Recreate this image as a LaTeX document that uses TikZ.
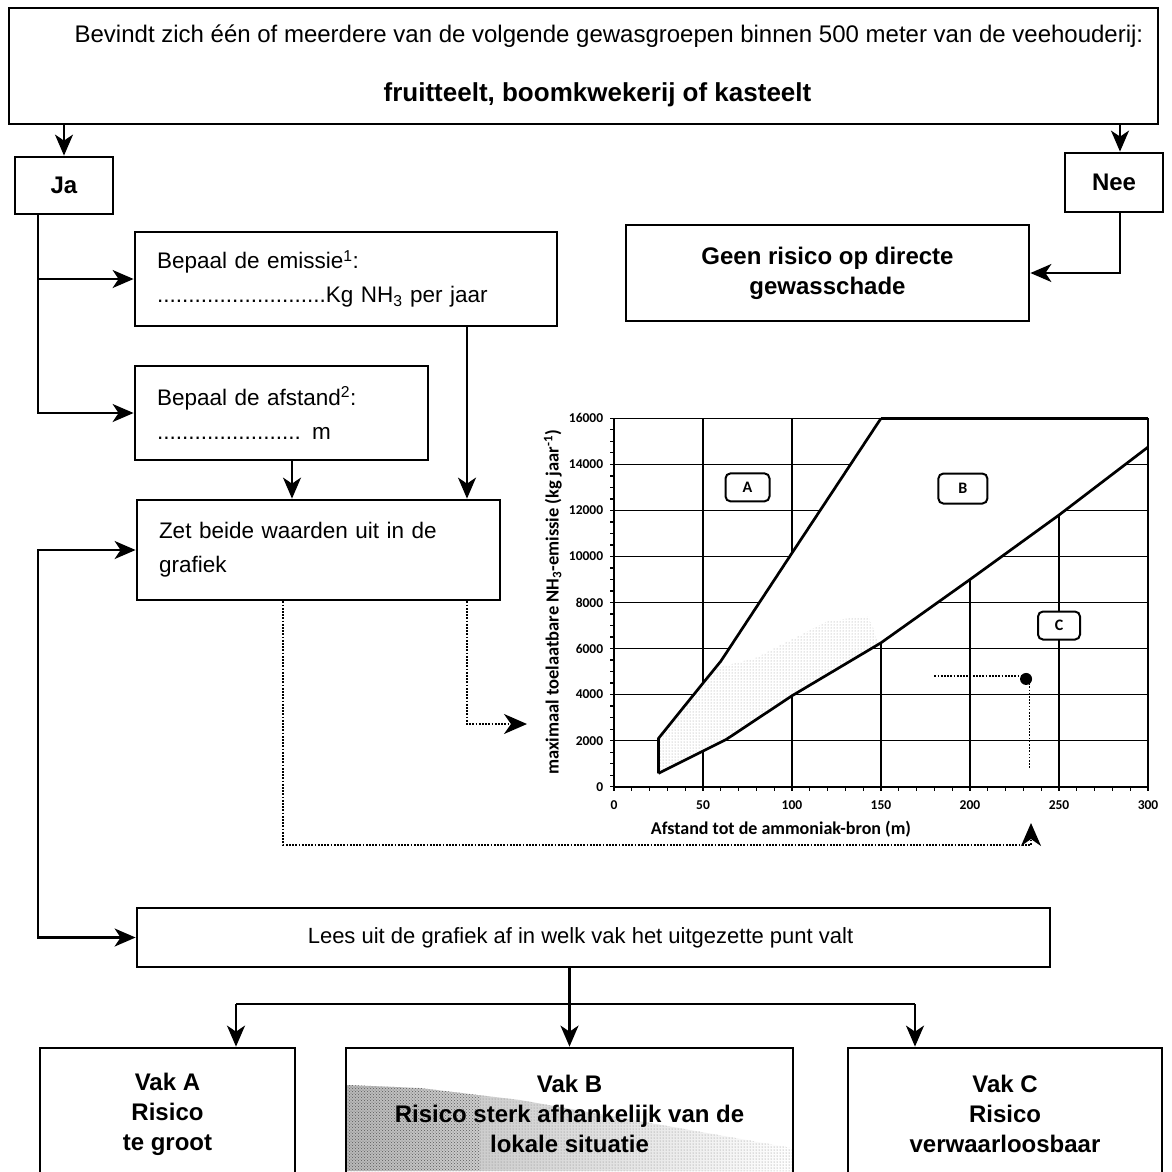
\documentclass[tikz,border=0pt]{standalone}
\usepackage{fontspec}
\setmainfont{Liberation Sans}
\newfontfamily\chartfont{Carlito}
\usetikzlibrary{arrows.meta,patterns}
\begin{document}
\begin{tikzpicture}[x=1pt,y=-1pt,
  box/.style={draw, line width=2.8pt, inner sep=0pt},
  arr/.style={line width=2.2pt, -{Stealth[length=21pt,width=18pt,inset=6pt]}},
  arrboth/.style={line width=2.2pt, {Stealth[length=21pt,width=18pt,inset=6pt]}-{Stealth[length=21pt,width=18pt,inset=6pt]}},
  ln/.style={line width=2.2pt},
  dotl/.style={line width=1.7pt, dash pattern=on 1.7pt off 1.5pt},
  dotarr/.style={dotl, -{Stealth[length=23pt,width=20pt,inset=7pt]}},
  reg/.style={font=\fontsize{22.5}{34}\selectfont},
  bld/.style={font=\bfseries\fontsize{24}{30}\selectfont},
  gridl/.style={line width=1.6pt},
  curve/.style={line width=2.7pt, line join=round},
  lab/.style={font=\chartfont\bfseries\fontsize{13.5}{14}\selectfont, inner sep=0pt},
  vakl/.style={draw, rounded corners=5pt, line width=2pt, fill=white, font=\chartfont\bfseries\fontsize{16}{16}\selectfont, inner sep=0pt}
]
\useasboundingbox (0,0) rectangle (1172,1171);
\fill[white] (0,0) rectangle (1172,1171);
\clip (0,0) rectangle (1172,1171);

% ---------- flowchart boxes ----------
\node[box, font=\fontsize{24}{28}\selectfont, align=center, minimum width=1149pt, minimum height=116pt] (top) at (583.5,66)
  {\hspace*{51pt}Bevindt zich één of meerdere van de volgende gewasgroepen binnen 500 meter van de veehouderij:\\[31pt]\hspace*{28pt}{\bfseries\fontsize{26}{28}\selectfont fruitteelt, boomkwekerij of kasteelt}};
\node[box, bld, minimum width=98pt, minimum height=57pt] (ja) at (64,185.5) {Ja};
\node[box, bld, minimum width=98pt, minimum height=59pt] (nee) at (1114,182.5) {Nee};
\node[box, bld, align=center, minimum width=403pt, minimum height=96pt] (geen) at (827.5,273) {Geen risico op directe\\gewasschade};
\node[box, reg, align=left, minimum height=94pt, text width=378pt, inner xsep=22pt] (emis) at (346,279)
  {Bepaal de emissie\textsuperscript{1}:\\...........................Kg NH\textsubscript{3} per jaar};
\node[box, reg, align=left, minimum height=94pt, text width=249pt, inner xsep=22pt] (afst) at (281.5,413)
  {Bepaal de afstand\textsuperscript{2}:\\....................... m};
\node[box, reg, align=left, minimum height=100pt, text width=319pt, inner xsep=22pt] (zet) at (318.5,550)
  {Zet beide waarden uit in de\\grafiek};
\node[box, font=\fontsize{22}{28}\selectfont, minimum width=913pt, minimum height=59pt] (lees) at (593.5,937.5)
  {\hspace*{-26pt}Lees uit de grafiek af in welk vak het uitgezette punt valt};

% Vak B stipple
\begin{scope}
  \clip (347,1085) -- (420,1088) -- (520,1100) -- (792,1148) -- (792,1171) -- (347,1171) -- cycle;
  \shade[left color=black!28, right color=white] (347,1080) rectangle (792,1171);
  \fill[pattern=crosshatch dots, pattern color=black!65] (347,1080) rectangle (480,1171);
  \fill[pattern=dots, pattern color=black!50] (480,1080) rectangle (792,1171);
\end{scope}
\node[box, bld, align=center, minimum width=255pt, minimum height=132pt] (vakA) at (167.5,1114) {Vak A\\Risico\\te groot};
\node[box, bld, align=center, minimum width=447pt, minimum height=132pt] (vakB) at (569.5,1114) {Vak B\\Risico sterk afhankelijk van de\\lokale situatie};
\node[box, bld, align=center, minimum width=314pt, minimum height=132pt] (vakC) at (1005,1114) {Vak C\\Risico\\verwaarloosbaar};

% ---------- connectors ----------
\coordinate (neex) at (1120,0);
\coordinate (jx) at (38,0);
\coordinate (ax) at (292,0);
\coordinate (ex) at (467,0);
\coordinate (d1) at (283,0);
\coordinate (dcorner) at (283,845);
\coordinate (xin) at (1031,823);
\coordinate (yin) at (527,724);
\coordinate (bl) at (236,1004);
\coordinate (br) at (915,1004);

\draw[arr] (ja.north |- top.south) -- (ja.north);
\draw[arr] (neex |- top.south) -- (neex |- nee.north);
\draw[arr] (neex |- nee.south) |- (geen.east);
\draw[arr] (jx |- ja.south) |- (afst.west);
\draw[arr] (jx |- emis.west) -- (emis.west);
\draw[arr] (ax |- afst.south) -- (ax |- zet.north);
\draw[arr] (ex |- emis.south) -- (ex |- zet.north);
\draw[arrboth] (zet.west) -- (jx |- zet.west) -- (jx |- lees.west) -- (lees.west);
\draw[dotarr] (d1 |- zet.south) -- (dcorner) -| (xin);
\draw[dotarr] (ex |- zet.south) |- (yin);
\draw[arr] (vakB.north |- lees.south) -- (vakB.north);
\draw[ln] (bl) -- (br);
\draw[arr] (bl) -- (bl |- vakA.north);
\draw[arr] (br) -- (br |- vakC.north);

% ---------- chart ----------
\begin{scope}[xshift=614pt, yshift=-786.7pt, x=1.78pt, y=23.025pt]
  \foreach \v in {2,4,...,14} \draw[gridl] (0,\v) -- (300,\v);
  \foreach \m in {50,100,...,250} \draw[gridl] (\m,0) -- (\m,16);
  \fill[white] (25,0.58) -- (25,2.1) -- (50,4.5) -- (60,5.45) -- (100,10.15) -- (150,16) -- (300,16) -- (300,14.75)
     -- (250,11.8) -- (200,9.0) -- (150,6.25) -- (100,3.95) -- (63,2.05) -- (50,1.55) -- cycle;
  \begin{scope}
    \clip (25,0.58) -- (25,2.1) -- (50,4.5) -- (60,5.45) -- (100,10.15) -- (150,16) -- (300,16) -- (300,14.75)
     -- (250,11.8) -- (200,9.0) -- (150,6.25) -- (100,3.95) -- (63,2.05) -- (50,1.55) -- cycle;
    \fill[pattern=dots, pattern color=black!40] (25,0) -- (25,3) -- (50,5.0) -- (80,5.6) -- (120,7.2) -- (143,7.4) -- (150,6) -- (150,0) -- cycle;
  \end{scope}
  \draw[gridl] (0,0) -- (0,16) -- (300,16) -- (300,0) -- cycle;
  \draw[curve] (150,16) -- (300,16);
  \draw[curve] (25,0.58) -- (25,2.1) -- (50,4.5) -- (60,5.45) -- (100,10.15) -- (150,16);
  \draw[curve] (25,0.58) -- (50,1.55) -- (63,2.05) -- (100,3.95) -- (150,6.25) -- (200,9.0) -- (250,11.8) -- (300,14.75);
  \foreach \m in {0,10,...,300} \draw[line width=1.3pt] (\m,0) -- (\m,-0.2);
  \foreach \v in {0,0.5,...,16} \draw[line width=1.3pt] (0,\v) -- (-2.2,\v);
  \foreach \v/\t in {0/0,2/2000,4/4000,6/6000,8/8000,10/10000,12/12000,14/14000,16/16000}
    \node[lab, anchor=east] (yl\v) at (-6,\v) {\t};
  \foreach \m in {0,50,100,150,200,250,300}
    \node[lab] (xl\m) at (\m,-0.8) {\m};
  \node[lab, font=\chartfont\bfseries\fontsize{18}{18}\selectfont] (xtitle) at (93.8,-1.84) {Afstand tot de ammoniak-bron (m)};
  \node[lab, font=\chartfont\bfseries\fontsize{18.5}{18}\selectfont, rotate=90] (ytitle) at (-34.3,8.0)
    {maximaal toelaatbare NH\textsubscript{3}-emissie (kg jaar\textsuperscript{-1})};
  \node[vakl, minimum width=44pt, minimum height=28pt] (lA) at (75,13.0) {A};
  \node[vakl, minimum width=49pt, minimum height=30pt] (lB) at (196,12.95) {B};
  \node[vakl, minimum width=42pt, minimum height=28pt] (lC) at (250,7.0) {C};
  \draw[dotl] (180,4.82) -- (229,4.82);
  \draw[dotl] (233.5,4.5) -- (233.5,0.81);
  \fill (231.5,4.68) circle (6pt);
\end{scope}
\end{tikzpicture}
\end{document}
